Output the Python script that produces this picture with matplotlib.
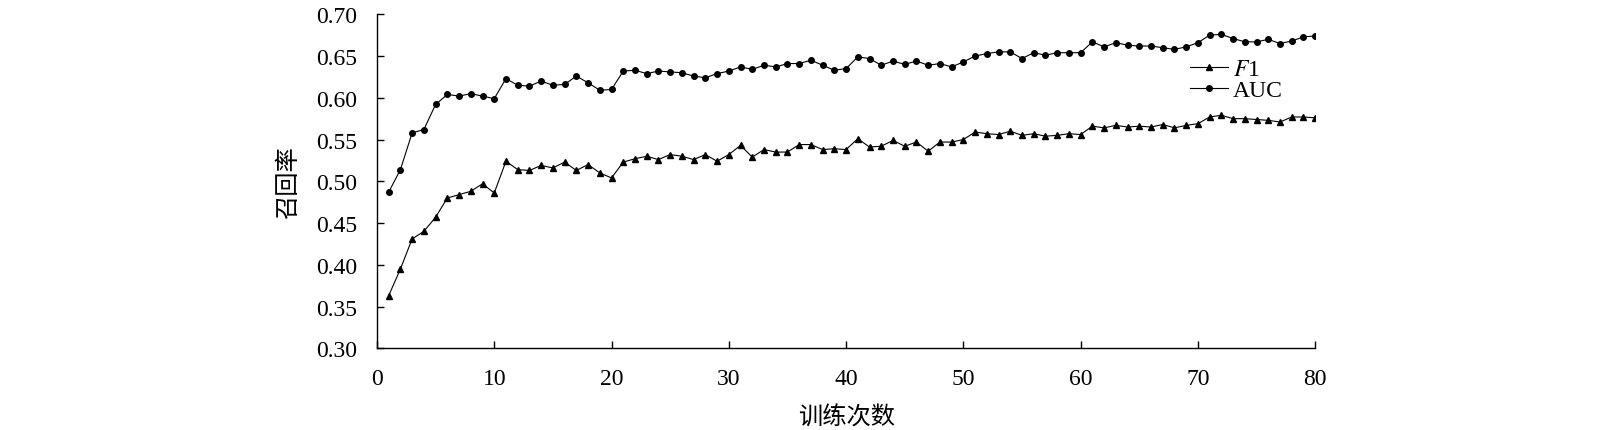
import matplotlib
matplotlib.use('Agg')
import matplotlib.pyplot as plt
import numpy as np

plt.rcParams['font.family'] = ['Liberation Serif', 'Noto Sans CJK SC']
plt.rcParams['mathtext.fontset'] = 'stix'

# training rounds 1..80
epochs = list(range(1, 81))

auc = [0.487, 0.514, 0.558, 0.562, 0.592, 0.604, 0.602, 0.605, 0.602, 0.599,
       0.623, 0.615, 0.614, 0.620, 0.615, 0.616, 0.626, 0.618, 0.609, 0.610,
       0.632, 0.633, 0.629, 0.632, 0.631, 0.630, 0.626, 0.624, 0.629, 0.632,
       0.637, 0.634, 0.639, 0.637, 0.641, 0.641, 0.645, 0.639, 0.633, 0.635,
       0.649, 0.647, 0.639, 0.644, 0.640, 0.644, 0.639, 0.641, 0.637, 0.643,
       0.650, 0.653, 0.655, 0.655, 0.647, 0.654, 0.651, 0.654, 0.654, 0.654,
       0.667, 0.661, 0.666, 0.663, 0.662, 0.662, 0.660, 0.658, 0.661, 0.666,
       0.675, 0.676, 0.671, 0.667, 0.667, 0.670, 0.665, 0.668, 0.673, 0.674]

f1 = [0.363, 0.395, 0.431, 0.440, 0.457, 0.480, 0.484, 0.488, 0.497, 0.486,
      0.524, 0.514, 0.513, 0.519, 0.516, 0.523, 0.513, 0.520, 0.510, 0.504,
      0.523, 0.527, 0.530, 0.526, 0.532, 0.530, 0.526, 0.532, 0.524, 0.532,
      0.543, 0.529, 0.538, 0.535, 0.535, 0.544, 0.544, 0.538, 0.539, 0.538,
      0.551, 0.541, 0.542, 0.549, 0.542, 0.547, 0.536, 0.547, 0.547, 0.550,
      0.559, 0.557, 0.556, 0.560, 0.555, 0.557, 0.554, 0.555, 0.557, 0.556,
      0.566, 0.564, 0.567, 0.565, 0.566, 0.565, 0.568, 0.564, 0.567, 0.569,
      0.577, 0.579, 0.575, 0.575, 0.574, 0.573, 0.571, 0.577, 0.577, 0.576]

xticks = [0, 10, 20, 30, 40, 50, 60, 70, 80]
yticks = [0.30, 0.35, 0.40, 0.45, 0.50, 0.55, 0.60, 0.65, 0.70]

fig = plt.figure(figsize=(16, 4.31), dpi=100)
ax = fig.add_axes([0.2356, 0.1896, 0.822 - 0.2356, 0.9645 - 0.1896])

ax.plot(epochs, f1, color='black', lw=0.8, marker='^', ms=4, label=r'$F$1')
ax.plot(epochs, auc, color='black', lw=0.8, marker='o', ms=4, label='AUC')

ax.set_xlim(0, 80)
ax.set_ylim(0.30, 0.70)
ax.set_xticks(xticks)
ax.set_yticks(yticks)
ax.set_yticklabels(['%.2f' % v for v in yticks])
ax.tick_params(direction='in', length=5, width=1, labelsize=17, pad=14)
ax.spines['top'].set_visible(False)
ax.spines['right'].set_visible(False)
for s in ['left', 'bottom']:
    ax.spines[s].set_linewidth(1)

ax.set_xlabel('训练次数', fontsize=17.5, family='Noto Sans CJK SC',
              fontweight='light', labelpad=11)
ax.set_ylabel('召回率', fontsize=17.5, family='Noto Sans CJK SC',
              fontweight='light', labelpad=11)

ax.legend(loc='upper left', bbox_to_anchor=(0.867, 0.868), frameon=False,
          fontsize=17, handlelength=1.6, handletextpad=0.2, labelspacing=0.0,
          borderpad=0, borderaxespad=0)

fig.savefig('out.png', dpi=100)
